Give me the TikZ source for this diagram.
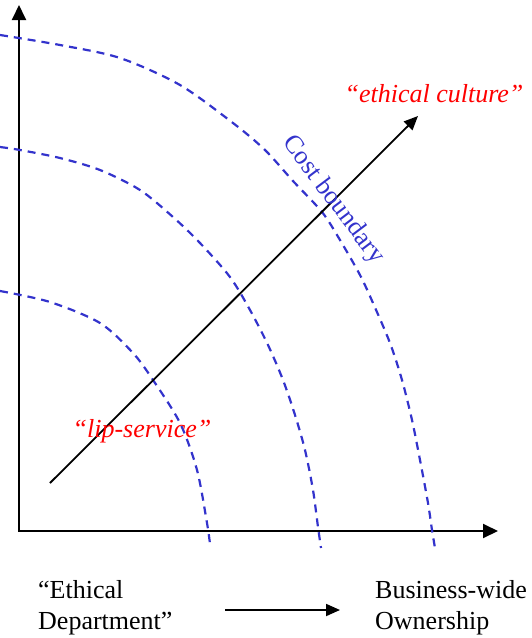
\documentclass[tikz,border=0pt]{standalone}
\usepackage{fontspec}
\setmainfont{Liberation Serif}
\usepackage{xcolor}
\usetikzlibrary{arrows.meta, positioning}
\definecolor{costblue}{HTML}{3333CC}

\begin{document}
\begin{tikzpicture}[x=1pt, y=-1pt,
	axis/.style={{Triangle[length=15pt, width=14pt]}-{Triangle[length=15pt, width=14pt]}, line width=2pt, line join=miter},
	trend/.style={-{Triangle[length=14pt, width=12pt]}, line width=1.8pt},
	boundary/.style={costblue, dash pattern=on 8pt off 6pt, line width=2.2pt},
	txt/.style={font=\fontsize{26}{31}\selectfont, inner sep=0pt}
	]
	\useasboundingbox (0,0) rectangle (531,638);
	
	% Axes
	\coordinate (ytop) at (19,5);
	\coordinate (origin) at (19,531);
	\coordinate (xend) at (498,531);
	\draw[axis] (ytop) -- (origin) -- (xend);
	
	% Frontieres de cout
	\draw[boundary] plot[smooth] coordinates {(0,35) (60,45) (120,58) (180,85) (233,123) (265,150) (293,181) (322,212) (340,240) (360,275) (373,303) (390,343) (402,380) (412,420) (420,460) (428,503) (432,530) (435,548)};
	\draw[boundary] plot[smooth] coordinates {(0,147) (20,150) (60,158) (100,170) (140,190) (173,217) (200,243) (230,277) (250,310) (268,345) (283,380) (295,415) (305,450) (313,490) (318,527) (321,548)};
	\draw[boundary] plot[smooth] coordinates {(0,291) (50,302) (100,323) (133,353) (153,380) (180,423) (197,470) (207,523) (210,544)};
	
	% Diagonale
	\coordinate (low) at (50,483);
	\coordinate (high) at (418,116);
	\draw[trend] (low) -- (high);
	
	% Etiquettes
	\node[txt, red, anchor=base, font=\fontsize{26}{31}\selectfont\itshape] (culture) at (434,102) {“ethical culture”};
	\node[txt, red, anchor=base, font=\fontsize{26}{31}\selectfont\itshape] (lip) at (142,437) {“lip-service”};
	\node[txt, costblue, rotate=-53] (cost) at (333,200) {Cost boundary};
	
	% Legende du bas
	\node[txt, anchor=north west, align=left] (dept) at (38,580) {“Ethical\\Department”};
	\node[txt, anchor=north west, align=left] (owner) at (375,580) {Business-wide\\Ownership};
	\coordinate (from) at (225,610);
	\coordinate (to) at (340,610);
	\draw[trend] (from) -- (to);
	
\end{tikzpicture}
\end{document}
